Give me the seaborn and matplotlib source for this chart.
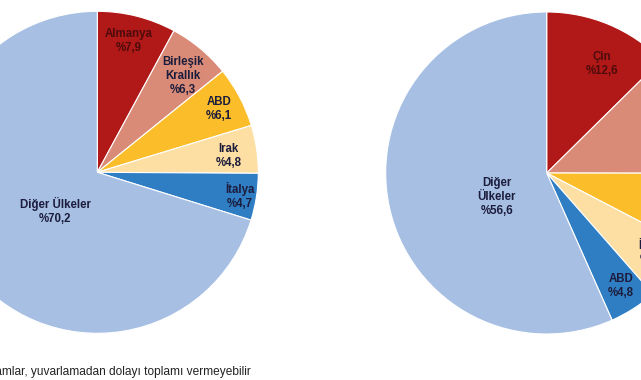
import numpy as np
import matplotlib
matplotlib.use("Agg")
import matplotlib.pyplot as plt
import seaborn as sns

# Dış ticaret payları (%) - sol: ihracat, sağ: ithalat
export_countries = ["Almanya", "Birleşik\nKrallık", "ABD", "Irak", "İtalya", "Diğer Ülkeler"]
export_shares = [7.9, 6.3, 6.1, 4.8, 4.7, 70.2]

import_countries = ["Çin", "Rusya\nFederasyonu", "Almanya", "İtalya", "ABD", "Diğer\nÜlkeler"]
import_shares = [12.6, 12.4, 7.6, 5.9, 4.8, 56.6]

footnote = "(*) Rakamlar, yuvarlamadan dolayı toplamı vermeyebilir"

sns.set_theme(style="white")
plt.rcParams['font.family'] = ['Liberation Sans Narrow', 'Liberation Sans', 'DejaVu Sans']

slice_colors = ["#B11818", "#D98B77", "#FBBE2A", "#FDDFA3", "#2F7EC4", "#A6BFE3"]
text_dark = "#1C1C3C"
text_red = "#4E0B0B"

W, H = 641, 380
fig = plt.figure(figsize=(W / 100, H / 100), dpi=100)


def draw_pie(cx, cy, r, names, shares, label_pos):
    ax = fig.add_axes([(cx - r) / W, 1 - (cy + r) / H, 2 * r / W, 2 * r / H])
    wedges, _ = ax.pie(shares, colors=slice_colors, startangle=90, counterclock=False,
                       wedgeprops=dict(edgecolor="white", linewidth=0.8))
    ax.set_xlim(-1, 1)
    ax.set_ylim(-1, 1)
    ax.set_aspect("equal")
    ax.axis("off")
    for i, (w, name, val) in enumerate(zip(wedges, names, shares)):
        d, shift = label_pos[i]
        mid = np.deg2rad((w.theta1 + w.theta2) / 2 + shift)
        txt = f"{name}\n%{val:.1f}".replace(".", ",")
        ax.text(d * np.cos(mid), d * np.sin(mid), txt, ha="center", va="center",
                fontsize=8.3, fontweight="bold", linespacing=1.2,
                color=text_red if i == 0 else text_dark, clip_on=False)
    return ax


# (uzaklık, açı kayması) her etiket için
draw_pie(97.3, 172.3, 161, export_countries, export_shares,
         [(0.836, 0.9), (0.80, -1.7), (0.85, -0.4), (0.82, -1.3), (0.90, -0.7), (0.355, 6.6)])
draw_pie(546.7, 173, 161, import_countries, import_shares,
         [(0.76, -4.1), (0.90, 0), (0.80, 0), (0.82, 1.5), (0.84, 0.8), (0.345, 13.7)])

fig.text(251 / W, 1 - 372 / H, footnote, ha="right", va="center",
         fontsize=8.6, color="#222222")

fig.savefig("out.png", dpi=100)
